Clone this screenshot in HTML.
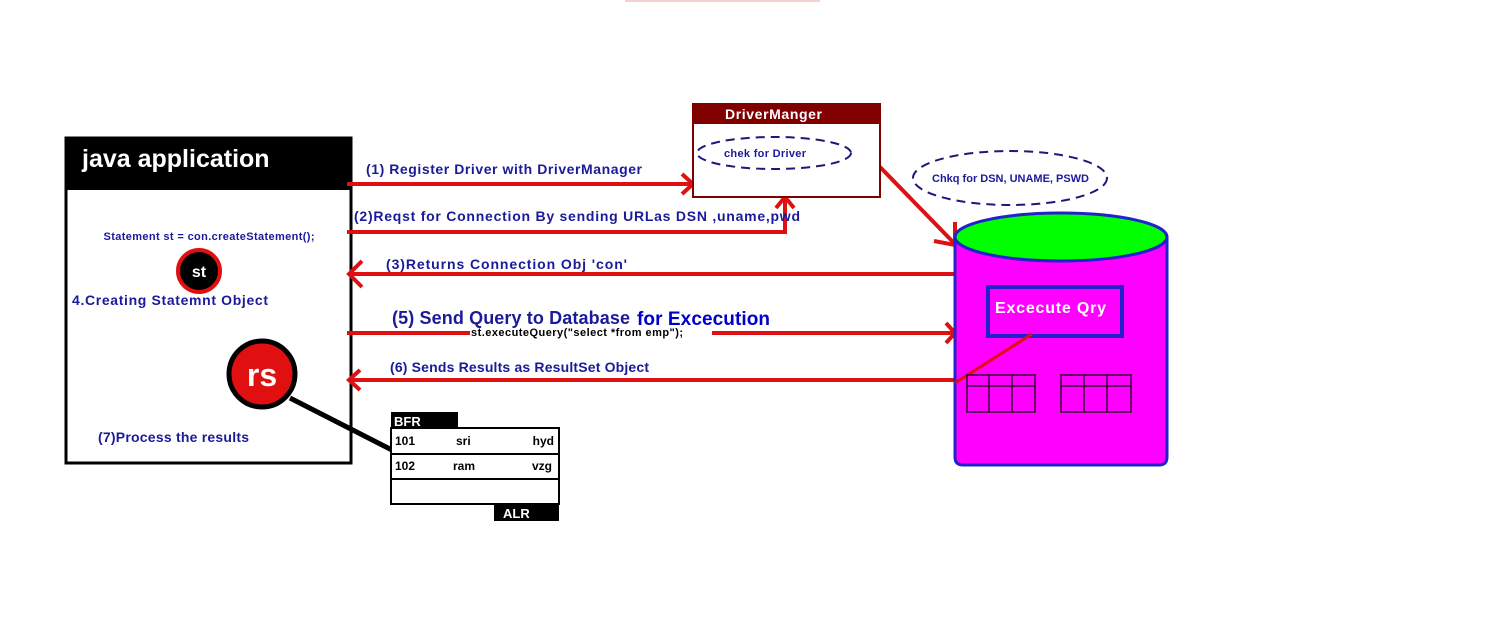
<!DOCTYPE html>
<html><head><style>html,body{margin:0;padding:0;background:#fff;}svg{display:block}
text{font-family:"Liberation Sans",sans-serif;font-weight:bold;}</style></head>
<body>
<svg width="1500" height="623" viewBox="0 0 1500 623" xmlns="http://www.w3.org/2000/svg">
<rect x="625" y="0" width="195" height="2" fill="#f6d0d0"/>
<!-- java app -->
<rect x="66" y="138" width="285" height="325" fill="#fff" stroke="#000" stroke-width="3"/>
<rect x="66" y="138" width="285" height="52" fill="#000"/>
<text x="82" y="167" fill="#fff" font-size="25">java application</text>
<text x="209" y="240" fill="#1a1a9a" font-size="11" text-anchor="middle" textLength="211">Statement st = con.createStatement();</text>
<circle cx="199" cy="271" r="21" fill="#000" stroke="#e01010" stroke-width="4"/>
<text x="199" y="277" fill="#fff" font-size="16" text-anchor="middle">st</text>
<text x="72" y="305" fill="#1a1a9a" font-size="14" textLength="196">4.Creating Statemnt Object</text>
<line x1="290" y1="398" x2="392" y2="450" stroke="#000" stroke-width="5"/>
<circle cx="262" cy="374" r="33" fill="#e01010" stroke="#000" stroke-width="5"/>
<text x="262" y="386" fill="#fff" font-size="32" text-anchor="middle">rs</text>
<text x="98" y="442" fill="#1a1a9a" font-size="14" textLength="151">(7)Process the results</text>
<!-- arrows -->
<g stroke="#dd1111" stroke-width="4" fill="none">
<line x1="347" y1="184" x2="693" y2="184"/><polyline points="682,174 693,184 682,194"/>
<polyline points="347,232 785,232 785,199"/><polyline points="776,208 785,197 794,208"/>
<line x1="955" y1="274" x2="349" y2="274"/><polyline points="362,261 349,274 362,287"/>
<line x1="347" y1="333" x2="470" y2="333"/><line x1="712" y1="333" x2="955" y2="333"/><polyline points="946,323 955,333 946,343"/>
<line x1="955" y1="380" x2="349" y2="380"/><polyline points="360,370 349,380 360,390"/>
<line x1="880" y1="167" x2="954" y2="243"/><polyline points="955,222 955,245 934,241"/>
</g>
<text x="366" y="174" fill="#1a1a9a" font-size="14" textLength="276">(1) Register Driver with DriverManager</text>
<text x="354" y="221" fill="#1a1a9a" font-size="14" textLength="446">(2)Reqst for Connection By sending URLas DSN ,uname,pwd</text>
<text x="386" y="269" fill="#1a1a9a" font-size="14" textLength="241">(3)Returns Connection Obj 'con'</text>
<text x="392" y="324" fill="#1a1a9a" font-size="18" textLength="238">(5) Send Query to Database</text>
<text x="637" y="325" fill="#0000cc" font-size="19" textLength="133">for Excecution</text>
<text x="471" y="336" fill="#000" font-size="11" textLength="212">st.executeQuery("select *from emp");</text>
<text x="390" y="372" fill="#1a1a9a" font-size="14" textLength="259">(6) Sends Results as ResultSet Object</text>
<!-- DriverManager -->
<rect x="693" y="104" width="187" height="93" fill="#fff" stroke="#800000" stroke-width="2"/>
<rect x="693" y="103" width="187" height="21" fill="#800000"/>
<text x="725" y="119" fill="#fff" font-size="14" textLength="97">DriverManger</text>
<ellipse cx="774" cy="153" rx="77" ry="16" fill="none" stroke="#1a1a7a" stroke-width="2" stroke-dasharray="9,6"/>
<text x="724" y="157" fill="#1a1a9a" font-size="11" font-weight="normal" textLength="82">chek for Driver</text>
<ellipse cx="1010" cy="178" rx="97" ry="27" fill="none" stroke="#1a1a7a" stroke-width="2" stroke-dasharray="9,6"/>
<text x="932" y="182" fill="#1a1a9a" font-size="11" textLength="157">Chkq for DSN, UNAME, PSWD</text>
<!-- DB -->
<path d="M955,237 L955,457 Q955,465 963,465 L1159,465 Q1167,465 1167,457 L1167,237 Z" fill="#ff00ff" stroke="#2222cc" stroke-width="3"/>
<ellipse cx="1061" cy="237" rx="106" ry="24" fill="#00ff00" stroke="#2222cc" stroke-width="3"/>
<rect x="988" y="287" width="134" height="49" fill="#ff00ff" stroke="#2222cc" stroke-width="4"/>
<text x="995" y="313" fill="#fff" font-size="16" textLength="111">Excecute Qry</text>
<line x1="1032" y1="334" x2="955" y2="383" stroke="#dd1111" stroke-width="3"/>
<g fill="none" stroke="#330033" stroke-width="1.5">
<rect x="967" y="375" width="68" height="37"/><line x1="967" y1="386" x2="1035" y2="386"/><line x1="989" y1="375" x2="989" y2="412"/><line x1="1012" y1="375" x2="1012" y2="412"/>
<rect x="1061" y="375" width="70" height="37"/><line x1="1061" y1="386" x2="1131" y2="386"/><line x1="1084" y1="375" x2="1084" y2="412"/><line x1="1107" y1="375" x2="1107" y2="412"/>
</g>
<!-- ResultSet table -->
<rect x="391" y="412" width="67" height="17" fill="#000"/>
<text x="394" y="426" fill="#fff" font-size="13">BFR</text>
<rect x="391" y="428" width="168" height="76" fill="#fff" stroke="#000" stroke-width="2"/>
<line x1="391" y1="454" x2="559" y2="454" stroke="#000" stroke-width="2"/>
<line x1="391" y1="479" x2="559" y2="479" stroke="#000" stroke-width="2"/>
<rect x="494" y="504" width="65" height="17" fill="#000"/>
<text x="503" y="518" fill="#fff" font-size="13">ALR</text>
<g fill="#000" font-size="12">
<text x="395" y="445">101</text><text x="456" y="445">sri</text><text x="554" y="445" text-anchor="end">hyd</text>
<text x="395" y="470">102</text><text x="453" y="470">ram</text><text x="552" y="470" text-anchor="end">vzg</text>
</g>
</svg>
</body></html>
